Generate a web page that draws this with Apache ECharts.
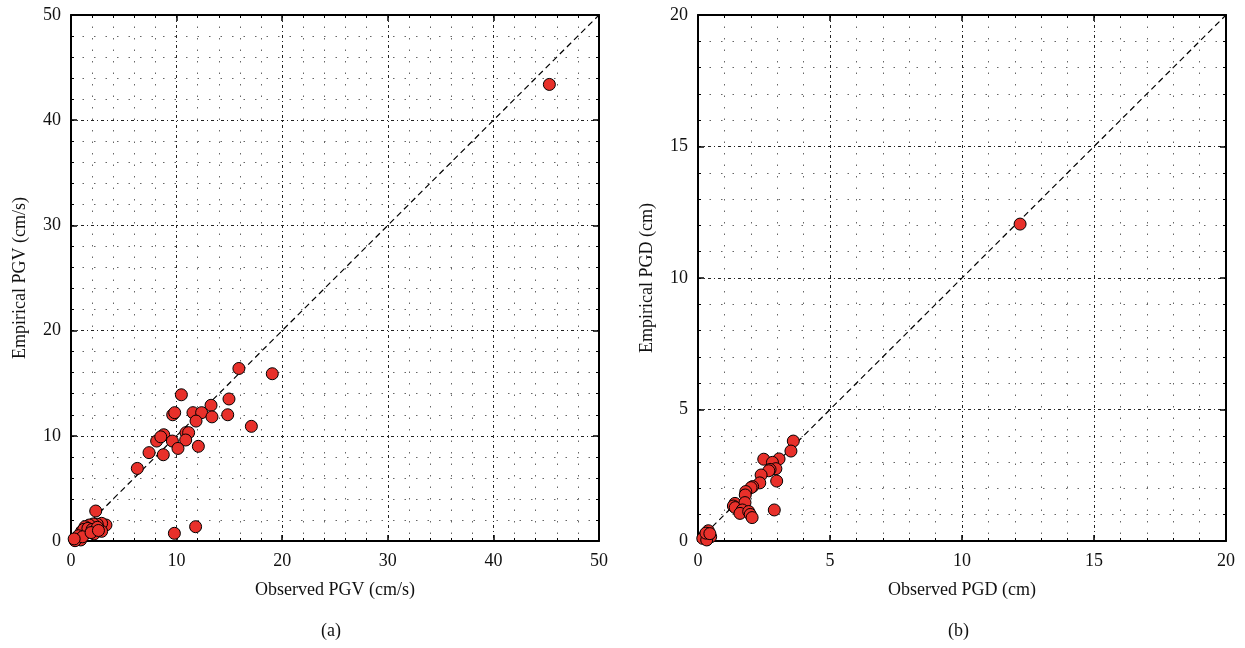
<!DOCTYPE html>
<html><head><meta charset="utf-8">
<script src="https://cdn.jsdelivr.net/npm/echarts@6/dist/echarts.min.js"></script>
<style>html,body{margin:0;padding:0;background:#fff}#c{width:1245px;height:648px}</style>
</head><body><div id="c"></div>
<script>
// Panel (a): PGV
const pgvObserved = [45.3,19.06,15.9,10.45,13.26,14.96,9.63,9.82,11.55,12.37,13.35,14.84,11.84,17.08,10.89,11.14,8.78,8.11,8.5,9.6,10.86,10.13,12.06,7.39,8.74,6.28,2.34,9.79,11.8,
  3.31,2.9,2.49,2.11,1.73,1.33,2.9,2.18,1.42,0.92,0.54,0.38,1.0,1.2,1.6,2.0,2.5,0.7,1.1,0.3,1.9,2.6];
const pgvEmpirical = [43.4,15.9,16.4,13.9,12.9,13.5,12.0,12.2,12.2,12.2,11.8,12.0,11.4,10.9,10.3,10.3,10.1,9.5,9.9,9.5,9.6,8.8,9.0,8.4,8.2,6.9,2.85,0.73,1.36,
  1.52,1.68,1.59,1.62,1.52,1.36,0.92,0.67,0.79,0.1,0.26,0.03,0.9,1.1,1.2,1.1,1.3,0.5,0.4,0.2,0.8,1.0];
// Panel (b): PGD
const pgdObserved = [12.2,3.61,3.52,2.49,3.07,2.82,2.95,2.73,2.68,2.39,2.34,2.07,2.01,2.98,1.81,1.79,1.40,1.34,1.41,1.78,1.68,1.59,1.92,1.98,2.05,2.89,0.39,0.27,0.48,0.18,0.33,0.3,0.45];
const pgdEmpirical = [12.05,3.80,3.42,3.11,3.12,2.99,2.75,2.72,2.67,2.51,2.21,2.07,2.03,2.28,1.88,1.75,1.43,1.33,1.27,1.46,1.18,1.05,1.12,1.01,0.89,1.18,0.39,0.23,0.16,0.10,0.04,0.3,0.28];
const pgvRange = [0, 50];
const pgdRange = [0, 20];
const pgvTickStep = 10;
const pgdTickStep = 5;
const labels = {aX:'Observed PGV (cm/s)', aY:'Empirical PGV (cm/s)', bX:'Observed PGD (cm)', bY:'Empirical PGD (cm)', aCap:'(a)', bCap:'(b)'};

const FONT = 'Liberation Serif';
const pair = (xs, ys) => xs.map((v,i)=>[v, ys[i]]);

function axis(kind, gridIndex, range, step, name, main, pos) {
  return {
    type:'value', gridIndex, min:range[0], max:range[1], interval:step, position:pos,
    name: main ? name : '', nameLocation:'middle',
    nameGap: kind==='x' ? 40 : 42,
    nameTextStyle:{fontFamily:FONT, fontSize:18, color:'#111'},
    axisLine:{show:true, onZero:false, lineStyle:{color:'#000', width:2}},
    axisTick:{show:true, inside:true, length:6, lineStyle:{color:'#000', width:1.5}},
    minorTick:{show:true, splitNumber:5, length:3, lineStyle:{color:'#000', width:1}},
    axisLabel:{show:main, fontFamily:FONT, fontSize:18, color:'#111', margin: kind==='x'?11:10},
    splitLine:{show:main, lineStyle:{color:'#222', width:1, type:[3,3,1,3]}},
    minorSplitLine:{show:main, lineStyle:{color:'#666', width:1, type:[1.5,10]}}
  };
}

const option = {
  animation:false,
  backgroundColor:'#fff',
  grid:[
    {left:71, right:646, top:15, bottom:107},
    {left:698, right:19, top:15, bottom:107}
  ],
  xAxis:[
    axis('x',0,pgvRange,pgvTickStep,labels.aX,true,'bottom'),
    axis('x',0,pgvRange,pgvTickStep,'',false,'top'),
    axis('x',1,pgdRange,pgdTickStep,labels.bX,true,'bottom'),
    axis('x',1,pgdRange,pgdTickStep,'',false,'top')
  ],
  yAxis:[
    axis('y',0,pgvRange,pgvTickStep,labels.aY,true,'left'),
    axis('y',0,pgvRange,pgvTickStep,'',false,'right'),
    axis('y',1,pgdRange,pgdTickStep,labels.bY,true,'left'),
    axis('y',1,pgdRange,pgdTickStep,'',false,'right')
  ],
  series:[
    {type:'line', xAxisIndex:0, yAxisIndex:0, data:[[pgvRange[0],pgvRange[0]],[pgvRange[1],pgvRange[1]]], symbol:'none', silent:true,
     lineStyle:{color:'#000', width:1.2, type:[6,4]}, z:3},
    {type:'scatter', xAxisIndex:0, yAxisIndex:0, data:pair(pgvObserved,pgvEmpirical), symbol:'circle', symbolSize:12,
     itemStyle:{color:'#e8302a', borderColor:'#000', borderWidth:1, opacity:1}, z:4},
    {type:'line', xAxisIndex:2, yAxisIndex:2, data:[[pgdRange[0],pgdRange[0]],[pgdRange[1],pgdRange[1]]], symbol:'none', silent:true,
     lineStyle:{color:'#000', width:1.2, type:[6,4]}, z:3},
    {type:'scatter', xAxisIndex:2, yAxisIndex:2, data:pair(pgdObserved,pgdEmpirical), symbol:'circle', symbolSize:12,
     itemStyle:{color:'#e8302a', borderColor:'#000', borderWidth:1, opacity:1}, z:4}
  ],
  graphic:[
    {type:'text', left:321, top:622, style:{text:labels.aCap, font:'18px "Liberation Serif"', fill:'#111'}},
    {type:'text', left:948, top:622, style:{text:labels.bCap, font:'18px "Liberation Serif"', fill:'#111'}}
  ]
};
const chart = echarts.init(document.getElementById('c'), null, {renderer:'canvas'});
chart.setOption(option);
</script></body></html>
